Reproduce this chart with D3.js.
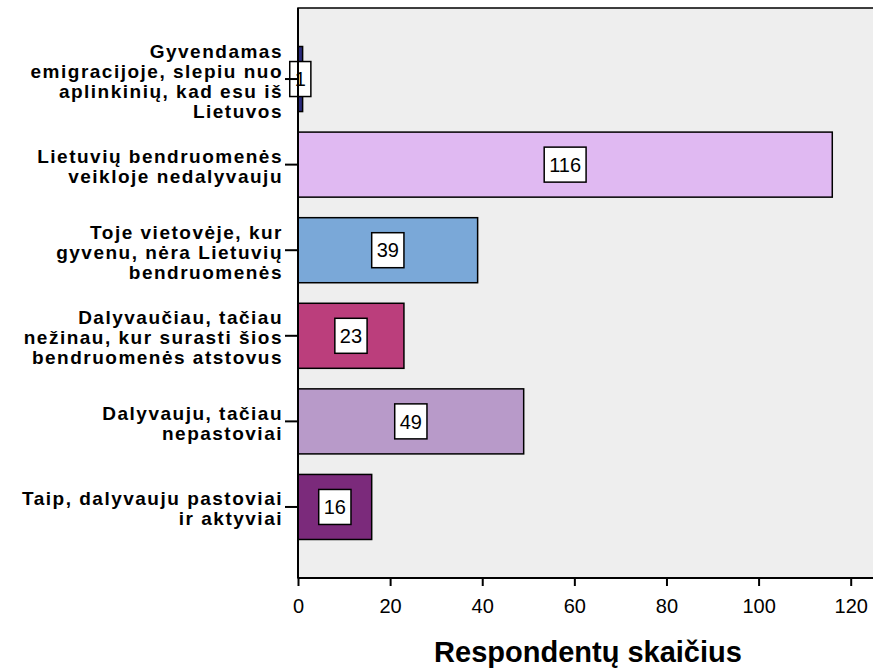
<!DOCTYPE html>
<html>
<head>
<meta charset="utf-8">
<script src="https://cdn.jsdelivr.net/npm/d3@7"></script>
<style>
  body { margin: 0; background: #fff; }
  svg { display: block; font-family: Arial, "Liberation Sans", sans-serif; }
</style>
</head>
<body>
<div id="vis1"></div>
<script>
/*
Data
*/

const categories = [
    ["Gyvendamas", "emigracijoje, slepiu nuo", "aplinkinių, kad esu iš", "Lietuvos"],
    ["Lietuvių bendruomenės", "veikloje nedalyvauju"],
    ["Toje vietovėje, kur", "gyvenu, nėra Lietuvių", "bendruomenės"],
    ["Dalyvaučiau, tačiau", "nežinau, kur surasti šios", "bendruomenės atstovus"],
    ["Dalyvauju, tačiau", "nepastoviai"],
    ["Taip, dalyvauju pastoviai", "ir aktyviai"]
];
const counts = [1, 116, 39, 23, 49, 16];
const barColors = ["#2b2a7c", "#e0b9f2", "#7aa8d8", "#bb3e7c", "#b89ac9", "#7b2a7b"];
const xTicks = [0, 20, 40, 60, 80, 100, 120];
const xTitle = "Respondentų skaičius";

/*
Size constants
*/

const WIDTH = 873;
const HEIGHT = 670;
const plot = {left: 298, top: 8, right: 873, bottom: 578};

const svg = d3.select("#vis1")
                .append("svg")
                .attr("width", WIDTH)
                .attr("height", HEIGHT);

/*
Scales
*/

const x = d3.scaleLinear()
            .domain([0, 120])
            .range([plot.left, plot.left + 552.7]);

const y = d3.scaleBand()
            .domain(d3.range(counts.length))
            .range([plot.top, plot.bottom])
            .paddingInner(0.24)
            .paddingOuter(0.45);

// plot background
svg.append("rect")
    .attr("x", plot.left)
    .attr("y", plot.top)
    .attr("width", plot.right - plot.left + 2)
    .attr("height", plot.bottom - plot.top)
    .attr("fill", "#eeeeee")
    .attr("stroke", "black")
    .attr("stroke-width", 1.5);

// bars
svg.append("g")
    .selectAll("rect")
    .data(counts)
    .enter()
    .append("rect")
    .attr("x", x(0))
    .attr("y", (d, i) => y(i))
    .attr("width", d => x(d) - x(0))
    .attr("height", y.bandwidth())
    .attr("fill", (d, i) => barColors[i])
    .attr("stroke", "black")
    .attr("stroke-width", 1.5);

// value labels in white boxes
const labels = svg.append("g")
    .selectAll("g")
    .data(counts)
    .enter()
    .append("g")
    .attr("transform", (d, i) => `translate(${(x(0) + x(d)) / 2}, ${y(i) + y.bandwidth() / 2})`);

labels.append("text")
    .attr("text-anchor", "middle")
    .attr("dy", "0.36em")
    .attr("font-size", 20)
    .text(d => d)
    .each(function() {
        const bb = this.getBBox();
        d3.select(this.parentNode).insert("rect", "text")
            .attr("x", bb.x - 5)
            .attr("y", -17.5)
            .attr("width", bb.width + 10)
            .attr("height", 35)
            .attr("fill", "white")
            .attr("stroke", "black")
            .attr("stroke-width", 1.5);
    });

// x axis
const xAxis = svg.append("g")
    .attr("transform", `translate(0, ${plot.bottom})`)
    .call(d3.axisBottom(x).tickValues(xTicks).tickSize(8).tickPadding(13));
xAxis.select(".domain").attr("d", `M${plot.left},0H${WIDTH}`).attr("stroke-width", 2);
xAxis.selectAll(".tick line").attr("stroke-width", 2);
xAxis.selectAll(".tick text").attr("font-size", 20).attr("font-family", "Arial, 'Liberation Sans', sans-serif").attr("fill", "black");

svg.append("text")
    .attr("x", 588)
    .attr("y", 662)
    .attr("text-anchor", "middle")
    .attr("font-size", 29)
    .attr("font-weight", "bold")
    .text(xTitle);

// y axis
const yAxis = svg.append("g")
    .attr("transform", `translate(${plot.left}, 0)`)
    .call(d3.axisLeft(y).tickSize(13).tickFormat(""));
yAxis.select(".domain").attr("d", `M0,${plot.top}V${plot.bottom}`).attr("stroke-width", 2);
yAxis.selectAll(".tick line").attr("stroke-width", 2);

const lineH = 20;
svg.append("g")
    .selectAll("text")
    .data(categories)
    .enter()
    .append("text")
    .attr("text-anchor", "end")
    .attr("font-size", 19)
    .attr("font-weight", "bold")
    .attr("letter-spacing", 1.5)
    .each(function(d, i) {
        const cy = y(i) + y.bandwidth() / 2;
        const startY = cy - (d.length - 1) * lineH / 2;
        d3.select(this).selectAll("tspan")
            .data(d)
            .enter()
            .append("tspan")
            .attr("x", 283)
            .attr("y", (t, j) => startY + j * lineH)
            .attr("dy", 8.5)
            .text(t => t);
    });
</script>
</body>
</html>
